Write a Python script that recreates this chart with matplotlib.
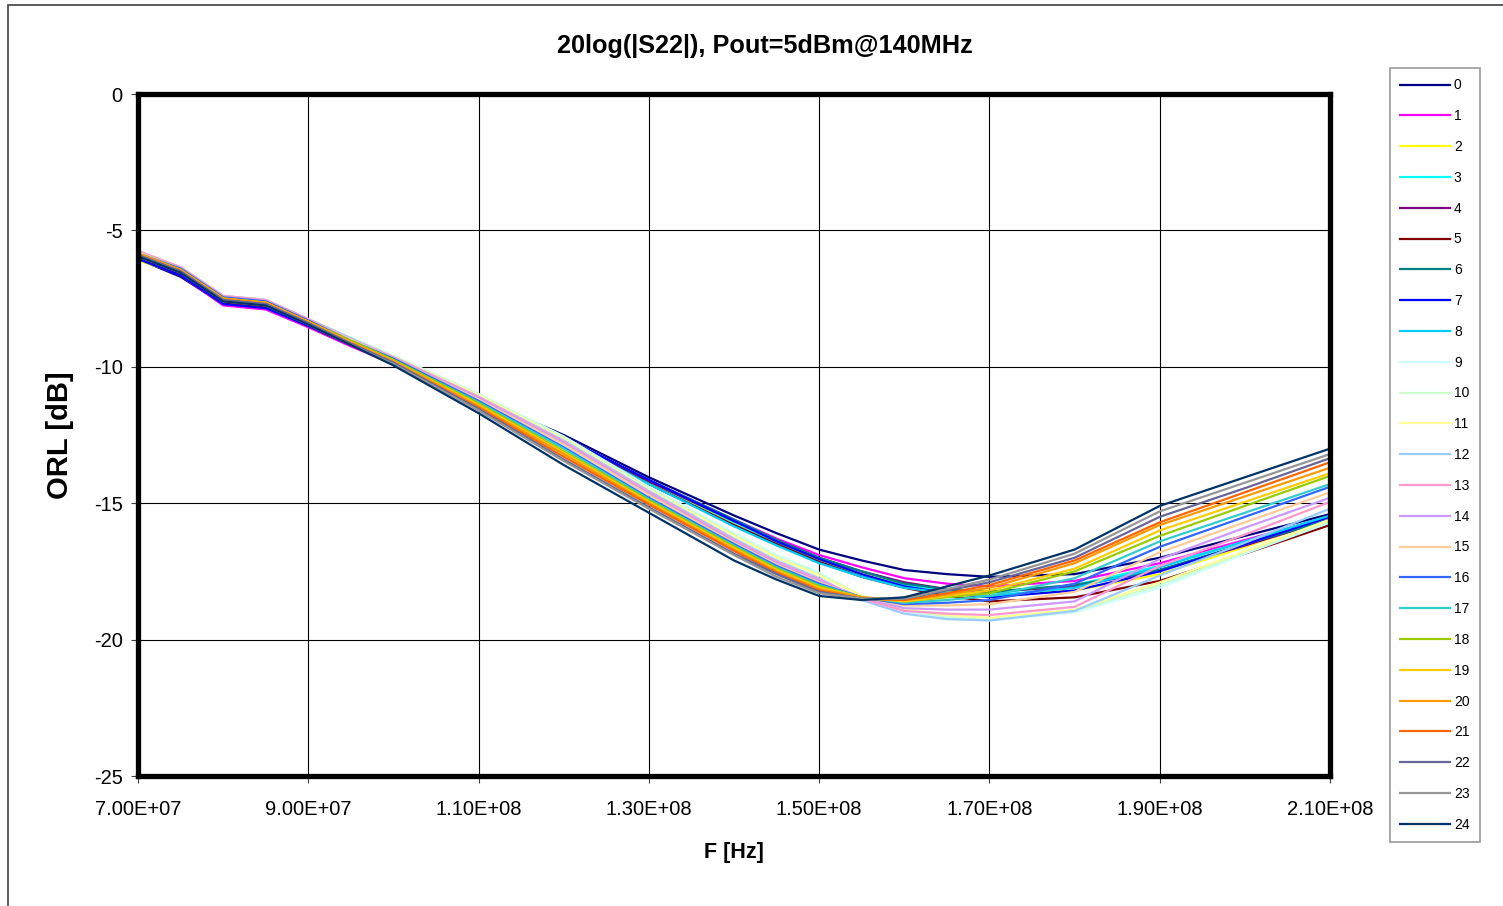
import matplotlib
matplotlib.use("Agg")
import matplotlib.pyplot as plt
from matplotlib.ticker import FuncFormatter, FixedLocator, MultipleLocator
from matplotlib.patches import Rectangle

plt.rcParams['font.family'] = ['Liberation Sans', 'DejaVu Sans']
plt.rcParams['axes.unicode_minus'] = False

# frequency points in MHz
freq_mhz = [70, 75, 80, 85, 90, 95, 100, 110, 120, 130, 140, 145, 150,
            155, 160, 165, 170, 180, 190, 200, 210]

x_ticks_mhz = [70, 90, 110, 130, 150, 170, 190, 210]

state_labels = [str(i) for i in range(25)]

# 20log(|S22|) in dB, one row per state
orl_db = [
    # 0
    [-6.05, -6.7, -7.7, -7.85, -8.5, -9.2, -9.85, -11.15, -12.5, -14.05, -15.45, -16.1, -16.7, -17.1, -17.45, -17.6, -17.7, -17.6, -17.0, -16.2, -15.4],
    # 1
    [-6.0, -6.65, -7.75, -7.9, -8.55, -9.25, -9.9, -11.2, -12.6, -14.15, -15.6, -16.3, -16.9, -17.35, -17.75, -17.95, -18.05, -17.85, -17.2, -16.35, -15.5],
    # 2
    [-6.1, -6.6, -7.6, -7.75, -8.45, -9.15, -9.8, -11.2, -12.65, -14.25, -15.75, -16.45, -17.1, -17.6, -18.0, -18.25, -18.4, -18.2, -17.6, -16.6, -15.55],
    # 3
    [-5.95, -6.5, -7.55, -7.7, -8.4, -9.1, -9.75, -11.15, -12.6, -14.2, -15.7, -16.45, -17.15, -17.65, -18.0, -18.2, -18.3, -18.0, -17.3, -16.4, -15.5],
    # 4
    [-6.0, -6.6, -7.65, -7.8, -8.5, -9.2, -9.85, -11.25, -12.65, -14.2, -15.65, -16.35, -17.0, -17.5, -17.9, -18.15, -18.25, -18.05, -17.45, -16.55, -15.6],
    # 5
    [-6.0, -6.6, -7.65, -7.8, -8.5, -9.2, -9.85, -11.3, -12.7, -14.3, -15.8, -16.5, -17.15, -17.7, -18.1, -18.4, -18.6, -18.45, -17.85, -16.85, -15.8],
    # 6
    [-5.95, -6.55, -7.6, -7.75, -8.45, -9.15, -9.8, -11.2, -12.6, -14.15, -15.6, -16.35, -17.0, -17.5, -17.95, -18.15, -18.25, -18.0, -17.45, -16.5, -15.6],
    # 7
    [-6.05, -6.65, -7.7, -7.85, -8.5, -9.2, -9.85, -11.2, -12.6, -14.15, -15.65, -16.4, -17.05, -17.6, -18.05, -18.3, -18.45, -18.2, -17.5, -16.5, -15.5],
    # 8
    [-5.95, -6.5, -7.55, -7.7, -8.4, -9.1, -9.75, -11.2, -12.7, -14.3, -15.85, -16.55, -17.2, -17.7, -18.1, -18.3, -18.4, -18.1, -17.35, -16.4, -15.45],
    # 9
    [-5.8, -6.35, -7.4, -7.55, -8.25, -8.95, -9.6, -11.0, -12.55, -14.4, -16.1, -16.9, -17.55, -18.4, -18.95, -19.2, -19.3, -19.0, -18.1, -16.85, -15.7],
    # 10
    [-5.8, -6.35, -7.4, -7.55, -8.25, -8.95, -9.6, -11.0, -12.6, -14.45, -16.15, -16.95, -17.6, -18.4, -18.9, -19.15, -19.25, -18.95, -18.0, -16.8, -15.65],
    # 11
    [-5.85, -6.4, -7.45, -7.6, -8.3, -9.0, -9.65, -11.05, -12.65, -14.5, -16.2, -17.0, -17.65, -18.4, -18.9, -19.1, -19.2, -18.9, -17.9, -16.75, -15.6],
    # 12
    [-5.8, -6.35, -7.4, -7.55, -8.25, -8.95, -9.65, -11.1, -12.7, -14.55, -16.3, -17.1, -17.75, -18.55, -19.05, -19.25, -19.3, -18.95, -17.65, -16.45, -15.2],
    # 13
    [-5.75, -6.35, -7.4, -7.55, -8.25, -9.0, -9.65, -11.1, -12.75, -14.6, -16.35, -17.15, -17.8, -18.5, -18.95, -19.05, -19.1, -18.8, -17.3, -16.15, -14.95],
    # 14
    [-5.8, -6.4, -7.45, -7.6, -8.3, -9.0, -9.7, -11.15, -12.8, -14.65, -16.4, -17.2, -17.85, -18.45, -18.85, -18.9, -18.9, -18.6, -17.05, -15.9, -14.8],
    # 15
    [-5.8, -6.4, -7.45, -7.6, -8.3, -9.0, -9.7, -11.2, -12.85, -14.7, -16.45, -17.25, -17.9, -18.45, -18.75, -18.75, -18.7, -18.25, -16.8, -15.7, -14.6],
    # 16
    [-5.85, -6.4, -7.45, -7.6, -8.3, -9.05, -9.7, -11.25, -12.95, -14.8, -16.5, -17.3, -17.95, -18.45, -18.7, -18.65, -18.55, -17.95, -16.6, -15.5, -14.4],
    # 17
    [-5.85, -6.45, -7.5, -7.65, -8.35, -9.05, -9.75, -11.3, -13.0, -14.85, -16.55, -17.35, -18.0, -18.45, -18.65, -18.55, -18.4, -17.75, -16.4, -15.35, -14.3],
    # 18
    [-5.85, -6.45, -7.5, -7.65, -8.35, -9.05, -9.75, -11.35, -13.1, -14.9, -16.6, -17.4, -18.05, -18.45, -18.6, -18.45, -18.3, -17.5, -16.2, -15.1, -14.0],
    # 19
    [-5.9, -6.45, -7.5, -7.65, -8.35, -9.1, -9.8, -11.4, -13.15, -14.95, -16.65, -17.45, -18.1, -18.45, -18.6, -18.4, -18.2, -17.4, -16.0, -14.95, -13.9],
    # 20
    [-5.85, -6.45, -7.5, -7.65, -8.35, -9.1, -9.8, -11.45, -13.2, -15.0, -16.7, -17.5, -18.15, -18.45, -18.55, -18.35, -18.1, -17.2, -15.8, -14.75, -13.7],
    # 21
    [-5.9, -6.5, -7.55, -7.7, -8.4, -9.15, -9.85, -11.5, -13.3, -15.05, -16.75, -17.55, -18.2, -18.5, -18.55, -18.3, -18.0, -17.1, -15.7, -14.6, -13.5],
    # 22
    [-5.9, -6.5, -7.55, -7.7, -8.4, -9.15, -9.85, -11.55, -13.4, -15.15, -16.85, -17.6, -18.25, -18.5, -18.5, -18.2, -17.9, -17.0, -15.5, -14.45, -13.35],
    # 23
    [-5.95, -6.55, -7.6, -7.75, -8.45, -9.2, -9.9, -11.6, -13.45, -15.2, -16.9, -17.7, -18.3, -18.5, -18.5, -18.15, -17.8, -16.85, -15.3, -14.25, -13.2],
    # 24
    [-5.95, -6.55, -7.6, -7.75, -8.45, -9.2, -9.95, -11.7, -13.6, -15.35, -17.1, -17.8, -18.4, -18.55, -18.45, -18.05, -17.65, -16.7, -15.1, -14.05, -13.0],
]

# excel-ish default series colours
line_colors = ['#000080', '#FF00FF', '#FFFF00', '#00FFFF', '#800080', '#800000',
               '#008080', '#0000FF', '#00CCFF', '#CCFFFF', '#CCFFCC', '#FFFF99',
               '#99CCFF', '#FF99CC', '#CC99FF', '#FFCC99', '#3366FF', '#33CCCC',
               '#99CC00', '#FFCC00', '#FF9900', '#FF6600', '#666699', '#969696',
               '#003366']

W, H = 1503, 906
fig = plt.figure(figsize=(W / 100, H / 100), dpi=100)

# outer chart-area border (runs off the right and bottom edge)
fig.patches.append(Rectangle((8 / W, -0.2), 1.5, 0.2 + 1 - 5 / H,
                             transform=fig.transFigure, fill=False,
                             edgecolor='#404040', linewidth=1.2))

ax = fig.add_axes([138 / W, 1 - 776 / H, 1192 / W, 682 / H])

freq_hz = [f * 1e6 for f in freq_mhz]
for i in range(len(orl_db)):
    ax.plot(freq_hz, orl_db[i], color=line_colors[i], linewidth=1.6,
            label=state_labels[i], solid_joinstyle='round')

ax.set_xlim(7e7, 2.1e8)
ax.set_ylim(-25, 0)
ax.xaxis.set_major_locator(FixedLocator([f * 1e6 for f in x_ticks_mhz]))
ax.yaxis.set_major_locator(MultipleLocator(5))
ax.xaxis.set_major_formatter(FuncFormatter(lambda v, p: f"{v:.2E}"))
ax.yaxis.set_major_formatter(FuncFormatter(lambda v, p: f"{v:.0f}"))
ax.grid(True, color='black', linewidth=0.8)
ax.set_axisbelow(True)

for s in ax.spines.values():
    s.set_linewidth(3.8)
    s.set_color('black')
ax.tick_params(direction='out', length=5, width=0.8, color='#404040',
               labelsize=14.5)
ax.tick_params(axis='x', pad=12.5)
ax.tick_params(axis='y', pad=6)

ax.set_xlabel("F [Hz]", fontsize=15.5, fontweight='bold', labelpad=16)
ax.set_ylabel("ORL [dB]", fontsize=21, fontweight='bold', labelpad=14)

fig.text(765 / W, 1 - 46 / H, "20log(|S22|), Pout=5dBm@140MHz",
         ha='center', va='center', fontsize=18.2, fontweight='bold')

leg = ax.legend(loc='upper left', bbox_to_anchor=(1390 / W, 1 - 68 / H),
                bbox_transform=fig.transFigure, borderaxespad=0,
                fancybox=False, frameon=True, edgecolor='#808080',
                handlelength=3.6, handletextpad=0.25, labelspacing=1.21,
                borderpad=0.75,
                prop={'family': ['Liberation Sans Narrow', 'Liberation Sans'], 'size': 10})
leg.get_frame().set_linewidth(1.2)

fig.savefig("out.png", dpi=100)
